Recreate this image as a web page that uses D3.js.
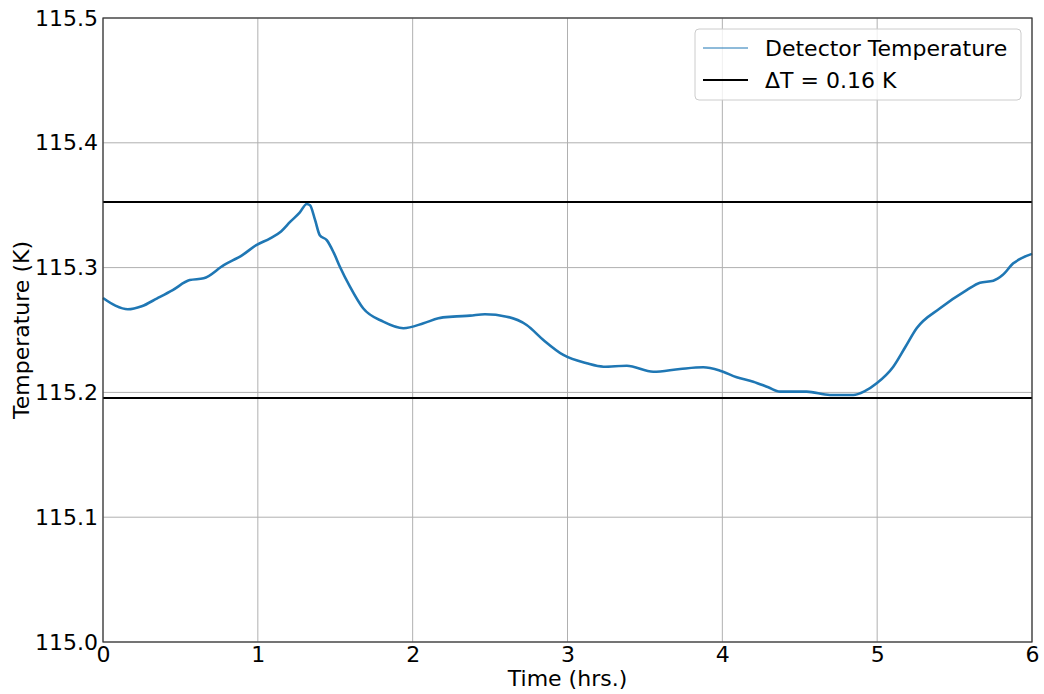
<!DOCTYPE html>
<html>
<head>
<meta charset="utf-8">
<script src="https://cdn.jsdelivr.net/npm/d3@7"></script>
<style>
  body { margin: 0; background: #fff; }
  svg text { font-family: "DejaVu Sans", sans-serif; }
</style>
</head>
<body>
<div id="chart"></div>
<script>
// Time (hrs.) and detector temperature (K)
const timeHrs = [0, 0.08, 0.16, 0.25, 0.35, 0.45, 0.56, 0.65, 0.78, 0.9, 0.99, 1.08, 1.15, 1.21, 1.27, 1.316, 1.337, 1.37, 1.40, 1.445, 1.49, 1.53, 1.595, 1.68, 1.81, 1.94, 2.07, 2.166, 2.26, 2.37, 2.467, 2.607, 2.736, 2.844, 2.973, 3.124, 3.232, 3.383, 3.554, 3.727, 3.877, 3.985, 4.093, 4.2, 4.297, 4.373, 4.545, 4.695, 4.846, 4.92, 4.997, 5.104, 5.18, 5.255, 5.406, 5.578, 5.664, 5.75, 5.81, 5.879, 5.94, 6.0];
const tempK = [115.2756, 115.2695, 115.2666, 115.2690, 115.2754, 115.2820, 115.2900, 115.2914, 115.3020, 115.3100, 115.3180, 115.3235, 115.3290, 115.3368, 115.3440, 115.3510, 115.3500, 115.3380, 115.3260, 115.3220, 115.3120, 115.3007, 115.2847, 115.2674, 115.2567, 115.2514, 115.2554, 115.2594, 115.2607, 115.2615, 115.2626, 115.2607, 115.2540, 115.2420, 115.2300, 115.2233, 115.2206, 115.2214, 115.2166, 115.2188, 115.2201, 115.2174, 115.2121, 115.2086, 115.2041, 115.2006, 115.2006, 115.1979, 115.1979, 115.2010, 115.2073, 115.2206, 115.2360, 115.2514, 115.2674, 115.2820, 115.2879, 115.2895, 115.2940, 115.3034, 115.3080, 115.3110];
const bandLevels = [115.1955, 115.3525];
const xTicks = [0, 1, 2, 3, 4, 5, 6];
const yTicks = [115.0, 115.1, 115.2, 115.3, 115.4, 115.5];
const legendLabels = ["Detector Temperature", "\u0394T = 0.16 K"];

const data = timeHrs.map((t, i) => ({ t: t, v: tempK[i] }));

const W = 1044, H = 694;
const margin = { top: 18, right: 12, bottom: 52, left: 103 };
const width = W - margin.left - margin.right;
const height = H - margin.top - margin.bottom;
const fs = 22;

const svg = d3.select("#chart").append("svg")
    .attr("width", W).attr("height", H);
const g = svg.append("g").attr("transform", `translate(${margin.left},${margin.top})`);

const x = d3.scaleLinear().domain([0, 6]).range([0, width]);
const y = d3.scaleLinear().domain([115.0, 115.5]).range([height, 0]);

// grid
g.append("g").selectAll("line").data(xTicks).enter().append("line")
    .attr("x1", d => x(d)).attr("x2", d => x(d))
    .attr("y1", 0).attr("y2", height)
    .attr("stroke", "#b0b0b0").attr("stroke-width", 1);
g.append("g").selectAll("line").data(yTicks).enter().append("line")
    .attr("x1", 0).attr("x2", width)
    .attr("y1", d => y(d)).attr("y2", d => y(d))
    .attr("stroke", "#b0b0b0").attr("stroke-width", 1);

// axes
const xAxis = g.append("g").attr("transform", `translate(0,${height})`)
    .call(d3.axisBottom(x).tickValues(xTicks).tickFormat(d3.format("d")).tickSize(0).tickPadding(4.5));
const yAxis = g.append("g")
    .call(d3.axisLeft(y).tickValues(yTicks).tickFormat(d3.format(".1f")).tickSize(0).tickPadding(5));
[xAxis, yAxis].forEach(a => {
    a.select(".domain").remove();
    a.selectAll("text").attr("font-size", fs).attr("fill", "#000")
        .style("font-family", "'DejaVu Sans', sans-serif");
});

// data line
const line = d3.line().x(d => x(d.t)).y(d => y(d.v)).curve(d3.curveMonotoneX);
g.append("path").datum(data)
    .attr("fill", "none")
    .attr("stroke", "#1f77b4")
    .attr("stroke-width", 2.6)
    .attr("stroke-linejoin", "round")
    .attr("d", line);

// band lines
g.append("g").selectAll("line").data(bandLevels).enter().append("line")
    .attr("x1", 0).attr("x2", width)
    .attr("y1", d => y(d)).attr("y2", d => y(d))
    .attr("stroke", "#000").attr("stroke-width", 2);

// frame
g.append("rect").attr("width", width).attr("height", height)
    .attr("fill", "none").attr("stroke", "#333").attr("stroke-width", 1.2);

// axis labels
svg.append("text")
    .attr("x", margin.left + width / 2).attr("y", 686)
    .attr("text-anchor", "middle").attr("font-size", fs)
    .text("Time (hrs.)");
svg.append("text")
    .attr("transform", `translate(29,${margin.top + height / 2}) rotate(-90)`)
    .attr("text-anchor", "middle").attr("font-size", fs)
    .text("Temperature (K)");

// legend
const leg = svg.append("g").attr("transform", "translate(695,29)");
leg.append("rect").attr("width", 326).attr("height", 71).attr("rx", 4)
    .attr("fill", "#fff").attr("fill-opacity", 0.8)
    .attr("stroke", "#ccc").attr("stroke-width", 1);
const legColors = ["#1f77b4", "#000"];
const legWidths = [1, 2];
legendLabels.forEach((lab, i) => {
    const yy = 19 + i * 32;
    leg.append("line").attr("x1", 8).attr("x2", 53).attr("y1", yy).attr("y2", yy)
        .attr("stroke", legColors[i]).attr("stroke-width", legWidths[i]);
    leg.append("text").attr("x", 70).attr("y", yy + 8)
        .attr("font-size", fs).text(lab);
});
</script>
</body>
</html>
